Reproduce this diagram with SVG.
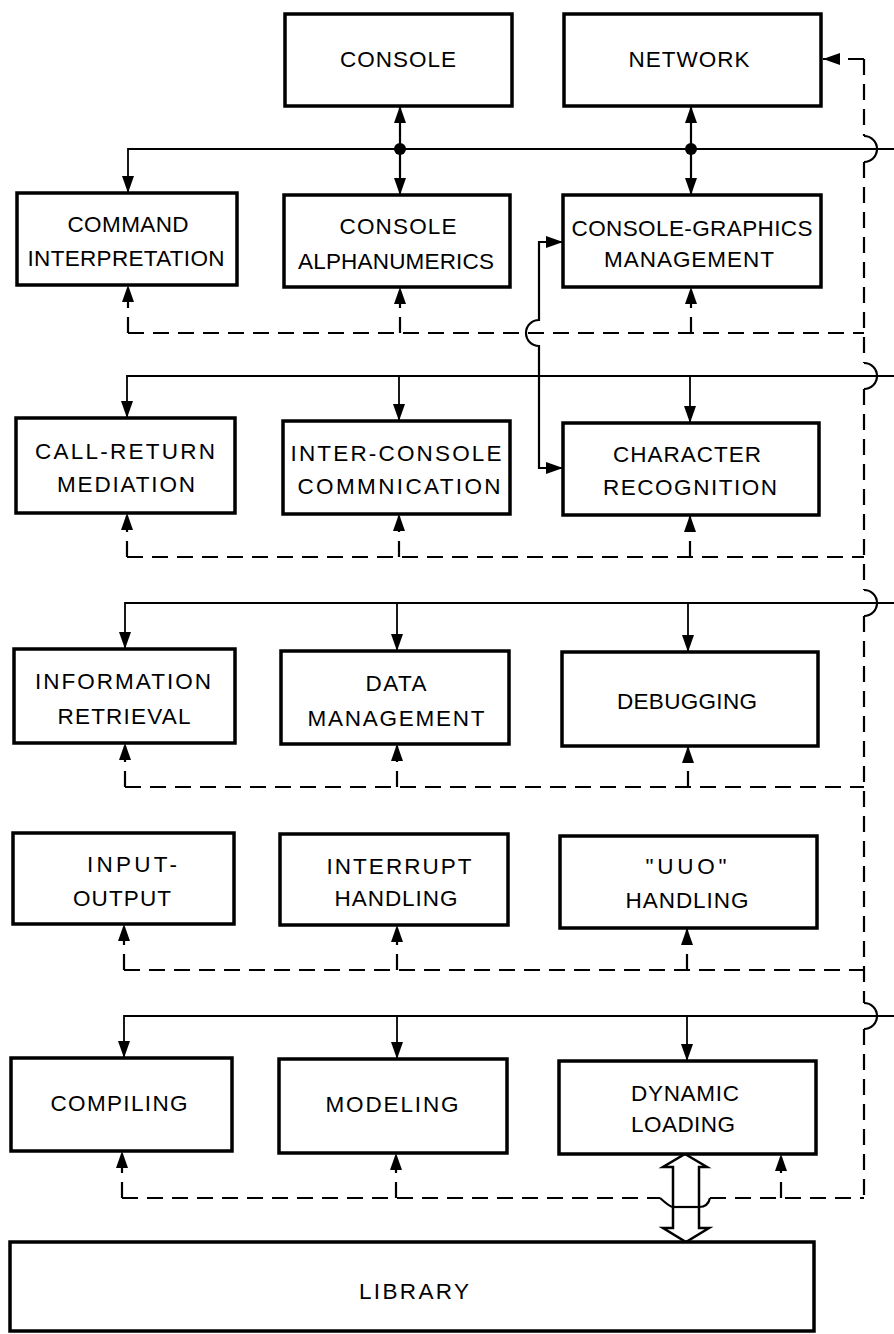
<svg xmlns="http://www.w3.org/2000/svg" width="894" height="1334" viewBox="0 0 894 1334">
<style>
.box{fill:#fff;stroke:#000;stroke-width:3.5}
.t{font-family:"Liberation Sans",Arial,sans-serif;font-size:22.5px;fill:#000;text-anchor:middle}
.bus{fill:none;stroke:#000;stroke-width:1.8}
.sol{fill:none;stroke:#000;stroke-width:2.2}
.dash{fill:none;stroke:#000;stroke-width:2.2;stroke-dasharray:16 9}
.hop{fill:none;stroke:#000;stroke-width:2.2}
</style>
<defs>
<marker id="ah" viewBox="0 0 17 12" refX="17" refY="6" markerWidth="17" markerHeight="12" markerUnits="userSpaceOnUse" orient="auto-start-reverse"><path d="M0,0 L17,6 L0,12 z" fill="#000"/></marker>
</defs>
<rect width="894" height="1334" fill="#fff"/>

<g id="connectors">
<path class="bus" d="M894,149 H128 V193" marker-end="url(#ah)"/>
<path class="bus" d="M894,376 H127 V418" marker-end="url(#ah)"/>
<path class="bus" d="M399,376 V421" marker-end="url(#ah)"/>
<path class="bus" d="M690,376 V423" marker-end="url(#ah)"/>
<path class="bus" d="M894,603 H125 V649" marker-end="url(#ah)"/>
<path class="bus" d="M397,603 V651" marker-end="url(#ah)"/>
<path class="bus" d="M688,603 V652" marker-end="url(#ah)"/>
<path class="bus" d="M894,1016 H124 V1058" marker-end="url(#ah)"/>
<path class="bus" d="M397,1016 V1059" marker-end="url(#ah)"/>
<path class="bus" d="M687,1016 V1061" marker-end="url(#ah)"/>
<path class="sol" d="M400,106 V195" marker-start="url(#ah)" marker-end="url(#ah)"/>
<circle cx="400" cy="149" r="6" fill="#000"/>
<path class="sol" d="M691,106 V195" marker-start="url(#ah)" marker-end="url(#ah)"/>
<circle cx="691" cy="149" r="6" fill="#000"/>
<path class="sol" d="M563,242 H539 V320 A13 13 0 0 0 539 346 V468 H563" stroke-width="2.6" marker-start="url(#ah)" marker-end="url(#ah)"/>
<path class="dash" d="M823,59 H864" marker-start="url(#ah)"/>
<path class="dash" d="M864,59 V136"/>
<path class="hop" d="M864,136 A13 13 0 0 1 864 162"/>
<path class="dash" d="M864,162 V363"/>
<path class="hop" d="M864,363 A13 13 0 0 1 864 389"/>
<path class="dash" d="M864,389 V590"/>
<path class="hop" d="M864,590 A13 13 0 0 1 864 616"/>
<path class="dash" d="M864,616 V1003"/>
<path class="hop" d="M864,1003 A13 13 0 0 1 864 1029"/>
<path class="dash" d="M864,1029 V1198"/>
<path class="dash" d="M128,333 H864"/>
<path class="dash" d="M128,333 V285" marker-end="url(#ah)"/>
<path class="dash" d="M400,333 V287" marker-end="url(#ah)"/>
<path class="dash" d="M691,333 V287" marker-end="url(#ah)"/>
<path class="dash" d="M127,557 H864"/>
<path class="dash" d="M127,557 V513" marker-end="url(#ah)"/>
<path class="dash" d="M399,557 V514" marker-end="url(#ah)"/>
<path class="dash" d="M690,557 V515" marker-end="url(#ah)"/>
<path class="dash" d="M125,787 H864"/>
<path class="dash" d="M125,787 V743" marker-end="url(#ah)"/>
<path class="dash" d="M397,787 V744" marker-end="url(#ah)"/>
<path class="dash" d="M688,787 V746" marker-end="url(#ah)"/>
<path class="dash" d="M124,970 H864"/>
<path class="dash" d="M124,970 V924" marker-end="url(#ah)"/>
<path class="dash" d="M397,970 V925" marker-end="url(#ah)"/>
<path class="dash" d="M687,970 V928" marker-end="url(#ah)"/>
<path class="dash" d="M122,1198 H660"/>
<path class="hop" d="M660,1198 Q670,1207 673,1207 H699 Q708,1207 710,1198"/>
<path class="dash" d="M710,1198 H864"/>
<path class="dash" d="M122,1198 V1151" marker-end="url(#ah)"/>
<path class="dash" d="M396,1198 V1153" marker-end="url(#ah)"/>
<path class="dash" d="M781,1198 V1154" marker-end="url(#ah)"/>
<path d="M685,1154 L707,1167 L699,1167 L699,1228 L709,1228 L686,1242 L663,1228 L673,1228 L673,1167 L663,1167 Z" fill="#fff" stroke="#000" stroke-width="2.5" stroke-linejoin="miter"/>
<path class="hop" d="M673,1207 H699"/>
</g>

<g id="console"><rect class="box" x="285" y="14" width="227" height="92"/><text class="t" x="398" y="67" textLength="116" lengthAdjust="spacing">CONSOLE</text></g>
<g id="network"><rect class="box" x="564" y="14" width="257" height="92"/><text class="t" x="689" y="67" textLength="121" lengthAdjust="spacing">NETWORK</text></g>

<g id="command-interpretation"><rect class="box" x="17" y="193" width="220" height="92"/><text class="t" x="128" y="232" textLength="121" lengthAdjust="spacing">COMMAND</text><text class="t" x="126" y="266" textLength="197" lengthAdjust="spacing">INTERPRETATION</text></g>
<g id="console-alphanumerics"><rect class="box" x="284" y="195" width="226" height="92"/><text class="t" x="398" y="234" textLength="117" lengthAdjust="spacing">CONSOLE</text><text class="t" x="396" y="269" textLength="196" lengthAdjust="spacing">ALPHANUMERICS</text></g>
<g id="console-graphics-management"><rect class="box" x="563" y="195" width="258" height="92"/><text class="t" x="692" y="236" textLength="241" lengthAdjust="spacing">CONSOLE-GRAPHICS</text><text class="t" x="689" y="267" textLength="170" lengthAdjust="spacing">MANAGEMENT</text></g>

<g id="call-return-mediation"><rect class="box" x="16" y="418" width="219" height="95"/><text class="t" x="125" y="459" textLength="180" lengthAdjust="spacing">CALL-RETURN</text><text class="t" x="126" y="492" textLength="138" lengthAdjust="spacing">MEDIATION</text></g>
<g id="inter-console-communication"><rect class="box" x="283" y="421" width="227" height="93"/><text class="t" x="396" y="461" textLength="211" lengthAdjust="spacing">INTER-CONSOLE</text><text class="t" x="399" y="494" textLength="203" lengthAdjust="spacing">COMMNICATION</text></g>
<g id="character-recognition"><rect class="box" x="563" y="423" width="256" height="92"/><text class="t" x="687" y="462" textLength="148" lengthAdjust="spacing">CHARACTER</text><text class="t" x="690" y="495" textLength="174" lengthAdjust="spacing">RECOGNITION</text></g>

<g id="information-retrieval"><rect class="box" x="14" y="649" width="221" height="94"/><text class="t" x="123" y="689" textLength="176" lengthAdjust="spacing">INFORMATION</text><text class="t" x="124" y="724" textLength="133" lengthAdjust="spacing">RETRIEVAL</text></g>
<g id="data-management"><rect class="box" x="281" y="651" width="228" height="93"/><text class="t" x="396" y="691" textLength="61" lengthAdjust="spacing">DATA</text><text class="t" x="396" y="726" textLength="177" lengthAdjust="spacing">MANAGEMENT</text></g>
<g id="debugging"><rect class="box" x="562" y="652" width="256" height="94"/><text class="t" x="687" y="709" textLength="140" lengthAdjust="spacing">DEBUGGING</text></g>

<g id="input-output"><rect class="box" x="13" y="833" width="221" height="91"/><text class="t" x="132" y="872" textLength="90" lengthAdjust="spacing">INPUT-</text><text class="t" x="122" y="906" textLength="98" lengthAdjust="spacing">OUTPUT</text></g>
<g id="interrupt-handling"><rect class="box" x="280" y="834" width="228" height="91"/><text class="t" x="399" y="874" textLength="145" lengthAdjust="spacing">INTERRUPT</text><text class="t" x="396" y="906" textLength="123" lengthAdjust="spacing">HANDLING</text></g>
<g id="uuo-handling"><rect class="box" x="560" y="836" width="257" height="92"/><text class="t" x="686" y="874" textLength="81" lengthAdjust="spacing">"UUO"</text><text class="t" x="687" y="908" textLength="123" lengthAdjust="spacing">HANDLING</text></g>

<g id="compiling"><rect class="box" x="11" y="1058" width="221" height="93"/><text class="t" x="119" y="1111" textLength="137" lengthAdjust="spacing">COMPILING</text></g>
<g id="modeling"><rect class="box" x="279" y="1059" width="228" height="94"/><text class="t" x="392" y="1112" textLength="133" lengthAdjust="spacing">MODELING</text></g>
<g id="dynamic-loading"><rect class="box" x="559" y="1061" width="257" height="93"/><text class="t" x="685" y="1101" textLength="108" lengthAdjust="spacing">DYNAMIC</text><text class="t" x="683" y="1132" textLength="104" lengthAdjust="spacing">LOADING</text></g>

<g id="library"><rect class="box" x="10" y="1242" width="804" height="89"/><text class="t" x="414" y="1299" textLength="110" lengthAdjust="spacing">LIBRARY</text></g>
</svg>
